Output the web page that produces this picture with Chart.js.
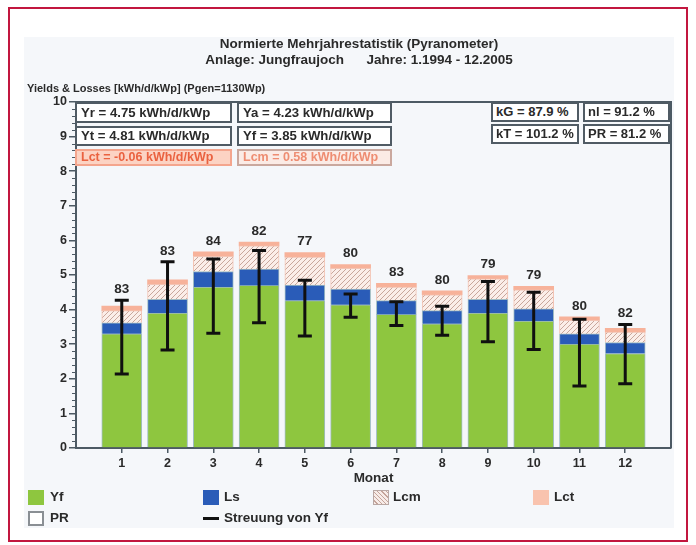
<!DOCTYPE html>
<html>
<head>
<meta charset="utf-8">
<title>Normierte Mehrjahrestatistik</title>
<script src="https://cdn.jsdelivr.net/npm/chart.js@4.4.1/dist/chart.umd.min.js"></script>
<style>
  html, body { margin: 0; padding: 0; background: #ffffff; }
  #wrap { position: relative; width: 696px; height: 545px; overflow: hidden;
          font-family: "Liberation Sans", Arial, sans-serif; font-weight: bold; color: #2a2a2a; }
  #frame { position: absolute; left: 8px; top: 7px; width: 676px; height: 531px;
           border: 2px solid #c2173f; }
  #panel { position: absolute; left: 24px; top: 37px; width: 650px; height: 491px; background: #f5f7fa; }
  #chart { position: absolute; left: 0; top: 0; }
  .t { position: absolute; white-space: pre; font-size: 13.5px; line-height: 16px; }
  .box { position: absolute; box-sizing: border-box; border: 2px solid #505b64; background: #ffffff;
         font-size: 13.2px; padding-left: 4px; white-space: pre; overflow: hidden; }
  .box.r { font-size: 13px; padding-left: 3px; }
  .box.s { font-size: 12.5px; }
  .sw { position: absolute; box-sizing: border-box; width: 16px; height: 15px; }
</style>
</head>
<body>
<div id="wrap">
  <div id="frame"></div>
  <div id="panel"></div>
  <canvas id="chart" width="696" height="545"></canvas>

  <div class="t" style="left:0;width:718px;text-align:center;top:36px;">Normierte Mehrjahrestatistik (Pyranometer)</div>
  <div class="t" style="left:0;width:718px;text-align:center;top:52px;">Anlage: Jungfraujoch      Jahre: 1.1994 - 12.2005</div>
  <div class="t" style="left:27px;top:80px;font-size:11px;">Yields &amp; Losses [kWh/d/kWp] (Pgen=1130Wp)</div>

  <div class="box" style="left:75px;top:102px;width:157px;height:21px;line-height:17px;">Yr = 4.75 kWh/d/kWp</div>
  <div class="box" style="left:237px;top:102px;width:155px;height:21px;line-height:17px;">Ya = 4.23 kWh/d/kWp</div>
  <div class="box" style="left:75px;top:126px;width:157px;height:20px;line-height:16px;">Yt = 4.81 kWh/d/kWp</div>
  <div class="box" style="left:237px;top:126px;width:155px;height:20px;line-height:16px;">Yf = 3.85 kWh/d/kWp</div>
  <div class="box s" style="left:75px;top:149px;width:157px;height:17px;line-height:13px;background:#fcd3c3;border-color:#f4a58d;color:#ea6240;">Lct = -0.06 kWh/d/kWp</div>
  <div class="box s" style="left:237px;top:149px;width:155px;height:17px;line-height:13px;background:#fbebe5;border-color:#caa89e;color:#ee8d72;">Lcm = 0.58 kWh/d/kWp</div>
  <div class="box r" style="left:491px;top:102px;width:88px;height:20px;line-height:16px;">kG = 87.9 %</div>
  <div class="box r" style="left:583px;top:102px;width:87px;height:20px;line-height:16px;">nl = 91.2 %</div>
  <div class="box r" style="left:491px;top:124px;width:88px;height:20px;line-height:16px;">kT = 101.2 %</div>
  <div class="box r" style="left:583px;top:124px;width:87px;height:20px;line-height:16px;">PR = 81.2 %</div>

  <div class="sw" style="left:28px;top:490px;background:#8ec63f;"></div>
  <div class="t" style="left:50px;top:489px;">Yf</div>
  <div class="sw" style="left:203px;top:490px;background:#2a5cb8;"></div>
  <div class="t" style="left:224px;top:489px;">Ls</div>
  <div class="sw" style="left:373px;top:490px;border:1px solid #b9a8a4;background:repeating-linear-gradient(45deg,#f7ece8 0 2px,#c5a49a 2px 3px);"></div>
  <div class="t" style="left:393px;top:489px;">Lcm</div>
  <div class="sw" style="left:533px;top:490px;background:#f9c3ae;"></div>
  <div class="t" style="left:554px;top:489px;">Lct</div>
  <div class="sw" style="left:28px;top:511px;background:#ffffff;border:2px solid #8a8f94;"></div>
  <div class="t" style="left:50px;top:510px;">PR</div>
  <div style="position:absolute;left:203px;top:517px;width:16px;height:3px;background:#111;"></div>
  <div class="t" style="left:224px;top:510px;">Streuung von Yf</div>
</div>

<script>
// Monthly averages 1994-2005, normalised yields and losses in kWh/d/kWp
const months = [1, 2, 3, 4, 5, 6, 7, 8, 9, 10, 11, 12];
const yf  = [3.30, 3.90, 4.65, 4.70, 4.26, 4.14, 3.86, 3.59, 3.90, 3.67, 3.00, 2.73];
const ls  = [0.32, 0.40, 0.45, 0.47, 0.45, 0.45, 0.40, 0.38, 0.40, 0.35, 0.30, 0.32];
const lcm = [0.35, 0.43, 0.44, 0.67, 0.81, 0.60, 0.39, 0.46, 0.59, 0.55, 0.39, 0.30];
const lct = [0.13, 0.13, 0.13, 0.11, 0.13, 0.11, 0.11, 0.11, 0.09, 0.10, 0.10, 0.11];
// spread of Yf over the years (min / max)
const yfMin = [2.14, 2.83, 3.32, 3.62, 3.24, 3.78, 3.54, 3.26, 3.07, 2.85, 1.79, 1.86];
const yfMax = [4.27, 5.38, 5.46, 5.71, 4.85, 4.45, 4.23, 4.10, 4.81, 4.50, 3.72, 3.57];
// performance ratio per month in %
const prPercent = [83, 83, 84, 82, 77, 80, 83, 80, 79, 79, 80, 82];
const yTickValues = [0, 1, 2, 3, 4, 5, 6, 7, 8, 9, 10];

const axisColor = '#4d5a64';
const textColor = '#2a2a2a';
const fontTicks = { family: '"Liberation Sans", Arial, sans-serif', size: 12.5, weight: 'bold' };
const fontTitle = { family: '"Liberation Sans", Arial, sans-serif', size: 13.5, weight: 'bold' };

// diagonal hatch for the Lcm segment
function hatchPattern() {
  const c = document.createElement('canvas');
  c.width = 5; c.height = 5;
  const g = c.getContext('2d');
  g.fillStyle = '#fbeee9';
  g.fillRect(0, 0, 5, 5);
  g.strokeStyle = '#c9a79c';
  g.lineWidth = 1;
  g.beginPath();
  g.moveTo(-1, 6); g.lineTo(6, -1);
  g.moveTo(-1, 1); g.lineTo(1, -1);
  g.moveTo(4, 6); g.lineTo(6, 4);
  g.stroke();
  return g.createPattern(c, 'repeat');
}

const series = arr => months.map((m, i) => ({ x: m, y: arr[i] }));

// outer frame of the plot (top and right sides) plus minor y ticks
const framePlugin = {
  id: 'plotFrame',
  afterDraw(chart) {
    const { ctx, chartArea: a, scales: { y } } = chart;
    ctx.save();
    ctx.strokeStyle = axisColor;
    ctx.lineWidth = 2;
    ctx.beginPath();
    ctx.moveTo(a.left, a.top);
    ctx.lineTo(a.right, a.top);
    ctx.lineTo(a.right, a.bottom);
    ctx.stroke();
    ctx.lineWidth = 1;
    ctx.beginPath();
    for (let k = 1; k < 50; k++) {
      if (k % 5 === 0) continue;
      const py = Math.round(y.getPixelForValue(k / 5)) + 0.5;
      ctx.moveTo(a.left - 4, py);
      ctx.lineTo(a.left, py);
    }
    ctx.stroke();
    ctx.restore();
  }
};

// Yf spread whiskers and PR labels
const whiskerPlugin = {
  id: 'yfSpread',
  afterDatasetsDraw(chart) {
    const { ctx, scales: { x, y } } = chart;
    ctx.save();
    ctx.strokeStyle = '#101010';
    ctx.lineWidth = 3;
    months.forEach((m, i) => {
      const px = x.getPixelForValue(m);
      const top = y.getPixelForValue(yfMax[i]);
      const bot = y.getPixelForValue(yfMin[i]);
      ctx.beginPath();
      ctx.moveTo(px, top); ctx.lineTo(px, bot);
      ctx.moveTo(px - 7, top); ctx.lineTo(px + 7, top);
      ctx.moveTo(px - 7, bot); ctx.lineTo(px + 7, bot);
      ctx.stroke();
    });
    ctx.fillStyle = textColor;
    ctx.font = 'bold 13.5px "Liberation Sans", Arial, sans-serif';
    ctx.textAlign = 'center';
    ctx.textBaseline = 'middle';
    months.forEach((m, i) => {
      const stackTop = yf[i] + ls[i] + lcm[i] + lct[i];
      const ref = Math.max(stackTop, yfMax[i]);
      ctx.fillText(String(prPercent[i]), x.getPixelForValue(m), y.getPixelForValue(ref) - 11);
    });
    ctx.restore();
  }
};

const barBorder = 'rgba(90,140,150,0.55)';

new Chart(document.getElementById('chart'), {
  type: 'bar',
  data: {
    datasets: [
      { label: 'Yf',  data: series(yf),  backgroundColor: '#8ec63f', borderColor: barBorder, borderWidth: 1 },
      { label: 'Ls',  data: series(ls),  backgroundColor: '#2a5cb8', borderColor: barBorder, borderWidth: 1 },
      { label: 'Lcm', data: series(lcm), backgroundColor: hatchPattern(), borderColor: '#f3c4b4', borderWidth: 1 },
      { label: 'Lct', data: series(lct), backgroundColor: '#f7b29a', borderWidth: 0 }
    ]
  },
  options: {
    responsive: false,
    animation: false,
    events: [],
    layout: { padding: { left: 20, right: 25, top: 102, bottom: 59 } },
    datasets: { bar: { barThickness: 40 } },
    plugins: { legend: { display: false }, tooltip: { enabled: false } },
    scales: {
      x: {
        type: 'linear', min: 0, max: 13, stacked: true, offset: false,
        afterBuildTicks: s => { s.ticks = months.map(v => ({ value: v })); },
        afterFit: s => { s.height = 545 - 448 - 59; },
        ticks: { font: fontTicks, color: textColor, padding: 3, autoSkip: false, maxRotation: 0,
                 callback: v => String(v) },
        grid: { drawOnChartArea: false, offset: false, tickLength: 5, color: axisColor, lineWidth: 1.5 },
        border: { color: axisColor, width: 2 },
        title: { display: true, text: 'Monat', font: fontTitle, color: textColor, padding: { top: 0, bottom: 0 } }
      },
      y: {
        min: 0, max: 10, stacked: true,
        afterBuildTicks: s => { s.ticks = yTickValues.map(v => ({ value: v })); },
        afterFit: s => { s.width = 56; },
        ticks: { font: fontTicks, color: textColor, padding: 2 },
        grid: { drawOnChartArea: false, tickLength: 7, color: axisColor, lineWidth: 1.5 },
        border: { color: axisColor, width: 2 }
      }
    }
  },
  plugins: [framePlugin, whiskerPlugin]
});
</script>
</body>
</html>
